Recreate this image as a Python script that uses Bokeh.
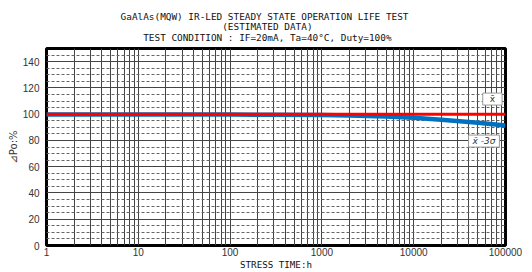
from bokeh.plotting import figure
from bokeh.layouts import column
from bokeh.models import Range1d, FixedTicker, Label
from bokeh.core.properties import value
from bokeh.embed import file_html
from bokeh.resources import INLINE

# ---- data ----
hours = [1, 10, 100, 300, 1000, 2000, 5000, 10000, 20000, 50000, 100000]
mean_pct = [100.0, 100.0, 100.0, 100.0, 100.0, 100.0, 100.0, 100.0, 100.0, 100.0, 100.0]
low_pct = [99.7, 99.7, 99.7, 99.6, 99.4, 99.0, 98.2, 97.2, 95.8, 93.5, 91.4]

x_ticks = [1, 10, 100, 1000, 10000, 100000]
x_tick_labels = ["1", "10", "100", "1000", "10000", "100000"]
x_minor = [m * d for d in [1, 10, 100, 1000, 10000] for m in range(2, 10)]
y_ticks = [0, 20, 40, 60, 80, 100, 120, 140]
y_minor = [v for v in range(5, 150, 5) if v % 20 != 0]

title_lines = [
    "GaAlAs(MQW)  IR-LED STEADY STATE OPERATION LIFE TEST",
    "(ESTIMATED DATA)",
    "TEST CONDITION : IF=20mA, Ta=40\u00b0C, Duty=100%",
]
x_title = "STRESS TIME:h"
y_title = "\u22bfPo:%"
mean_name = "x\u0304"
low_name = "x\u0304 -3\u03c3"

MONO = "DejaVu Sans Mono"
W, TH = 532, 46

# ---- title strip (pixel-unit canvas) ----
t = figure(width=W, height=TH, x_range=Range1d(0, W), y_range=Range1d(0, TH),
           output_backend="svg", toolbar_location=None,
           x_axis_location=None, y_axis_location=None,
           min_border=0, outline_line_color=None)
t.xgrid.visible = False
t.ygrid.visible = False
t.background_fill_color = "white"
t.border_fill_color = "white"
t.text(x=[256, 256, 256], y=[TH - 16.3, TH - 26.0, TH - 36.7], text=title_lines,
       text_align="center", text_baseline="middle",
       text_font=value(MONO), text_font_size="9.4px", text_color="#111111")

# ---- main chart ----
p = figure(width=W, height=272 - TH, x_axis_type="log",
           x_range=Range1d(1, 100000), y_range=Range1d(0, 150),
           output_backend="svg", toolbar_location=None,
           min_border_left=46, min_border_right=27,
           min_border_top=2, min_border_bottom=24)
p.background_fill_color = "white"
p.border_fill_color = "white"
p.outline_line_color = "black"
p.outline_line_width = 3

# axes
p.xaxis.ticker = FixedTicker(ticks=x_ticks, minor_ticks=x_minor)
p.xaxis.major_label_overrides = {tk: s for tk, s in zip(x_ticks, x_tick_labels)}
p.yaxis.ticker = FixedTicker(ticks=y_ticks, minor_ticks=y_minor)
for ax in (p.xaxis, p.yaxis):
    ax.axis_line_color = None
    ax.major_tick_line_color = None
    ax.minor_tick_line_color = None
    ax.major_tick_out = 0
    ax.minor_tick_out = 0
    ax.major_label_text_font = "Liberation Sans"
    ax.major_label_text_font_size = "10px"
    ax.major_label_text_color = "#333333"
p.xaxis.major_label_standoff = 2
p.yaxis.major_label_standoff = 7
p.xaxis.axis_label = x_title
p.xaxis.axis_label_standoff = 0
p.xaxis.axis_label_text_font = MONO
p.xaxis.axis_label_text_font_size = "9.2px"
p.xaxis.axis_label_text_font_style = "normal"
p.xaxis.axis_label_text_color = "#111111"
p.yaxis.axis_label = y_title
p.yaxis.axis_label_standoff = 1
p.yaxis.axis_label_text_font = "DejaVu Sans"
p.yaxis.axis_label_text_font_size = "10px"
p.yaxis.axis_label_text_font_style = "normal"
p.yaxis.axis_label_text_color = "#333333"

# grids
p.xgrid.grid_line_color = "#444444"
p.xgrid.grid_line_width = 1
p.xgrid.minor_grid_line_color = "#444444"
p.xgrid.minor_grid_line_width = 1
p.ygrid.grid_line_color = "#444444"
p.ygrid.grid_line_width = 1
p.ygrid.minor_grid_line_color = "#666666"
p.ygrid.minor_grid_line_dash = "3 2"
p.ygrid.minor_grid_line_width = 1

# series
p.line(hours, low_pct, line_color="#0070c0", line_width=4.5)
p.line(hours, mean_pct, line_color="#ff0000", line_width=3)

# series tags
p.add_layout(Label(x=72000, y=111.5, text=mean_name, text_align="center",
                   text_baseline="middle", text_font="DejaVu Sans",
                   text_font_size="9px", text_color="#333333",
                   background_fill_color="white", border_line_color="#999999",
                   border_line_width=1, padding=(7, 1)))
p.add_layout(Label(x=58300, y=79.5, text=low_name, text_align="center",
                   text_baseline="middle", text_font="DejaVu Sans",
                   text_font_size="9px", text_font_style="italic", text_color="#333333",
                   background_fill_color="white", border_line_color="#999999",
                   border_line_width=1, padding=(4, 1)))

open("out.html", "w").write(file_html(column(t, p, spacing=0), INLINE))
